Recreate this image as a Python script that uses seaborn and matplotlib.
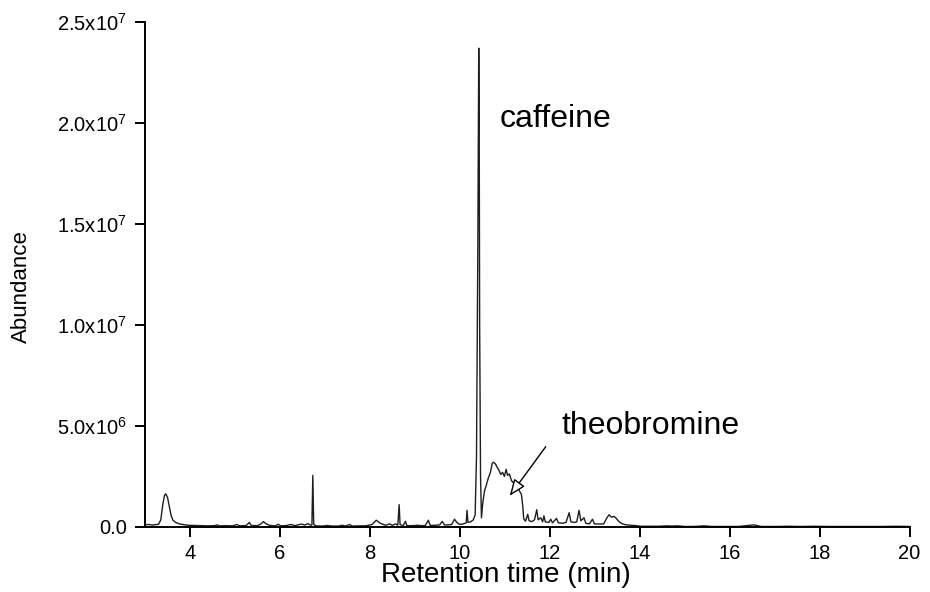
import numpy as np
import pandas as pd
import matplotlib
matplotlib.use("Agg")
import matplotlib.pyplot as plt
import seaborn as sns

# ==========================================
# DATA
# ==========================================
retention_time = [
    3.00, 3.08, 3.16, 3.24, 3.30, 3.35, 3.39, 3.43, 3.46, 3.50, 3.54, 3.58, 3.62, 3.68, 3.76,
    3.86, 3.96, 4.10, 4.25, 4.40, 4.55, 4.60, 4.65, 4.80, 4.95, 5.04, 5.10, 5.25, 5.32, 5.36,
    5.50, 5.58, 5.63, 5.70, 5.78, 5.90, 5.96, 6.02, 6.15, 6.25, 6.32, 6.40, 6.48, 6.55, 6.62,
    6.68, 6.71, 6.73, 6.75, 6.80, 6.95, 7.05, 7.15, 7.30, 7.38, 7.45, 7.55, 7.60, 7.75, 7.90,
    7.97, 8.05, 8.14, 8.23, 8.34, 8.44, 8.50, 8.57, 8.62, 8.65, 8.67, 8.74, 8.79, 8.82, 8.95,
    9.05, 9.15, 9.23, 9.30, 9.34, 9.45, 9.55, 9.61, 9.66, 9.75, 9.82, 9.88, 9.94, 10.00, 10.08,
    10.14, 10.16, 10.18, 10.24, 10.30, 10.34, 10.37, 10.40, 10.42, 10.43, 10.44, 10.46, 10.48,
    10.51, 10.55, 10.58, 10.63, 10.68, 10.72, 10.75, 10.79, 10.83, 10.87, 10.91, 10.95, 10.99,
    11.03, 11.06, 11.10, 11.15, 11.22, 11.30, 11.37, 11.40, 11.42, 11.46, 11.51, 11.54, 11.60,
    11.66, 11.71, 11.74, 11.80, 11.84, 11.87, 11.90, 11.98, 12.02, 12.06, 12.15, 12.19, 12.28,
    12.36, 12.43, 12.47, 12.55, 12.60, 12.65, 12.69, 12.76, 12.80, 12.88, 12.95, 12.99, 13.10,
    13.20, 13.27, 13.32, 13.37, 13.43, 13.48, 13.54, 13.62, 13.70, 13.80, 13.92, 14.02, 14.20,
    14.40, 14.60, 14.70, 14.85, 15.00, 15.20, 15.43, 15.60, 15.90, 16.20, 16.54, 16.70, 17.00,
    17.30, 17.60, 17.90, 18.20, 18.50, 18.80, 19.10, 19.40, 19.70, 20.00,
]

# abundance in units of 1e6
abundance_e6 = [
    0.10, 0.12, 0.09, 0.11, 0.13, 0.35, 1.05, 1.55, 1.64, 1.45, 1.00, 0.55, 0.33, 0.22, 0.15,
    0.11, 0.08, 0.07, 0.06, 0.05, 0.06, 0.10, 0.05, 0.06, 0.05, 0.12, 0.05, 0.07, 0.22, 0.07,
    0.06, 0.15, 0.26, 0.14, 0.07, 0.05, 0.13, 0.05, 0.07, 0.12, 0.06, 0.10, 0.14, 0.09, 0.16,
    0.08, 0.10, 2.55, 0.12, 0.05, 0.04, 0.07, 0.04, 0.04, 0.08, 0.04, 0.12, 0.04, 0.05, 0.05,
    0.08, 0.12, 0.33, 0.18, 0.08, 0.15, 0.07, 0.15, 0.08, 1.10, 0.12, 0.06, 0.28, 0.06, 0.06,
    0.08, 0.06, 0.07, 0.33, 0.07, 0.08, 0.10, 0.27, 0.09, 0.10, 0.12, 0.38, 0.20, 0.12, 0.15,
    0.20, 0.82, 0.22, 0.25, 0.35, 0.60, 3.50, 14.0, 23.7, 20.5, 10.0, 2.50, 0.45,
    1.20, 1.80, 2.00, 2.40, 2.70, 3.15, 3.20, 3.12, 2.95, 2.80, 2.60, 2.70, 2.50,
    2.85, 2.55, 2.62, 2.28, 2.12, 1.88, 1.60, 1.00, 0.40, 0.28, 0.62, 0.30, 0.26,
    0.35, 0.85, 0.35, 0.45, 0.25, 0.55, 0.25, 0.22, 0.38, 0.20, 0.42, 0.20, 0.18,
    0.22, 0.70, 0.25, 0.22, 0.25, 0.82, 0.30, 0.45, 0.18, 0.15, 0.38, 0.15, 0.14,
    0.15, 0.45, 0.60, 0.48, 0.52, 0.42, 0.25, 0.15, 0.10, 0.08, 0.06, 0.03, 0.03,
    0.03, 0.05, 0.04, 0.05, 0.02, 0.02, 0.05, 0.02, 0.02, 0.02, 0.10, 0.02, 0.02,
    0.03, 0.02, 0.03, 0.02, 0.02, 0.02, 0.02, 0.02, 0.03, 0.02,
]

x_ticks = [4, 6, 8, 10, 12, 14, 16, 18, 20]
y_ticks = [0, 5e6, 1e7, 1.5e7, 2e7, 2.5e7]
y_tick_labels = ["0.0", "5.0x10$^6$", "1.0x10$^7$", "1.5x10$^7$", "2.0x10$^7$", "2.5x10$^7$"]

# peak labels: (text, x, baseline y)
caffeine_label = ("caffeine", 10.89, 1.98e7)
theobromine_label = ("theobromine", 12.26, 4.62e6)
theobromine_arrow_from = (11.91, 3.97e6)
theobromine_arrow_to = (11.11, 1.54e6)
# ==========================================


def main():
    df = pd.DataFrame({"rt": retention_time, "abundance": np.array(abundance_e6) * 1e6})

    sns.set_style("ticks")
    plt.rcParams["font.family"] = ["Liberation Sans", "DejaVu Sans"]
    plt.rcParams["mathtext.fontset"] = "custom"
    plt.rcParams["mathtext.rm"] = "Liberation Sans"
    plt.rcParams["mathtext.it"] = "Liberation Sans:italic"
    plt.rcParams["text.color"] = "black"
    plt.rcParams["axes.labelcolor"] = "black"

    fig = plt.figure(figsize=(9.3, 5.92), dpi=100)
    ax = fig.add_axes([0.156, 0.110, 0.822, 0.853])

    sns.lineplot(data=df, x="rt", y="abundance", estimator=None, color="#1e1e1e",
                 linewidth=1.0, ax=ax)

    ax.set_xlim(3, 20)
    ax.set_ylim(0, 2.5e7)
    ax.set_xticks(x_ticks)
    ax.set_yticks(y_ticks)
    ax.set_yticklabels(y_tick_labels)

    sns.despine(ax=ax)
    for side in ["left", "bottom"]:
        ax.spines[side].set_linewidth(1.4)
        ax.spines[side].set_color("black")
    ax.tick_params(axis="both", direction="out", length=7, width=1.4, color="black",
                   labelsize=14.5, labelcolor="black")
    ax.tick_params(axis="x", pad=5)
    ax.tick_params(axis="y", pad=6)

    ax.set_xlabel("Retention time (min)", fontsize=20)
    ax.set_ylabel("Abundance", fontsize=16)
    ax.xaxis.set_label_coords(0.472, -0.069)
    ax.yaxis.set_label_coords(-0.148, 0.475)

    ax.text(caffeine_label[1], caffeine_label[2], caffeine_label[0], fontsize=23,
            ha="left", va="baseline")
    ax.text(theobromine_label[1], theobromine_label[2], theobromine_label[0], fontsize=23,
            ha="left", va="baseline")
    ax.annotate("", xy=theobromine_arrow_to, xytext=theobromine_arrow_from,
                arrowprops=dict(arrowstyle="-|>,head_length=1.0,head_width=0.4",
                                fc="white", ec="black", lw=1.0, shrinkA=0, shrinkB=0))

    fig.savefig("out.png", dpi=100)


if __name__ == "__main__":
    main()
